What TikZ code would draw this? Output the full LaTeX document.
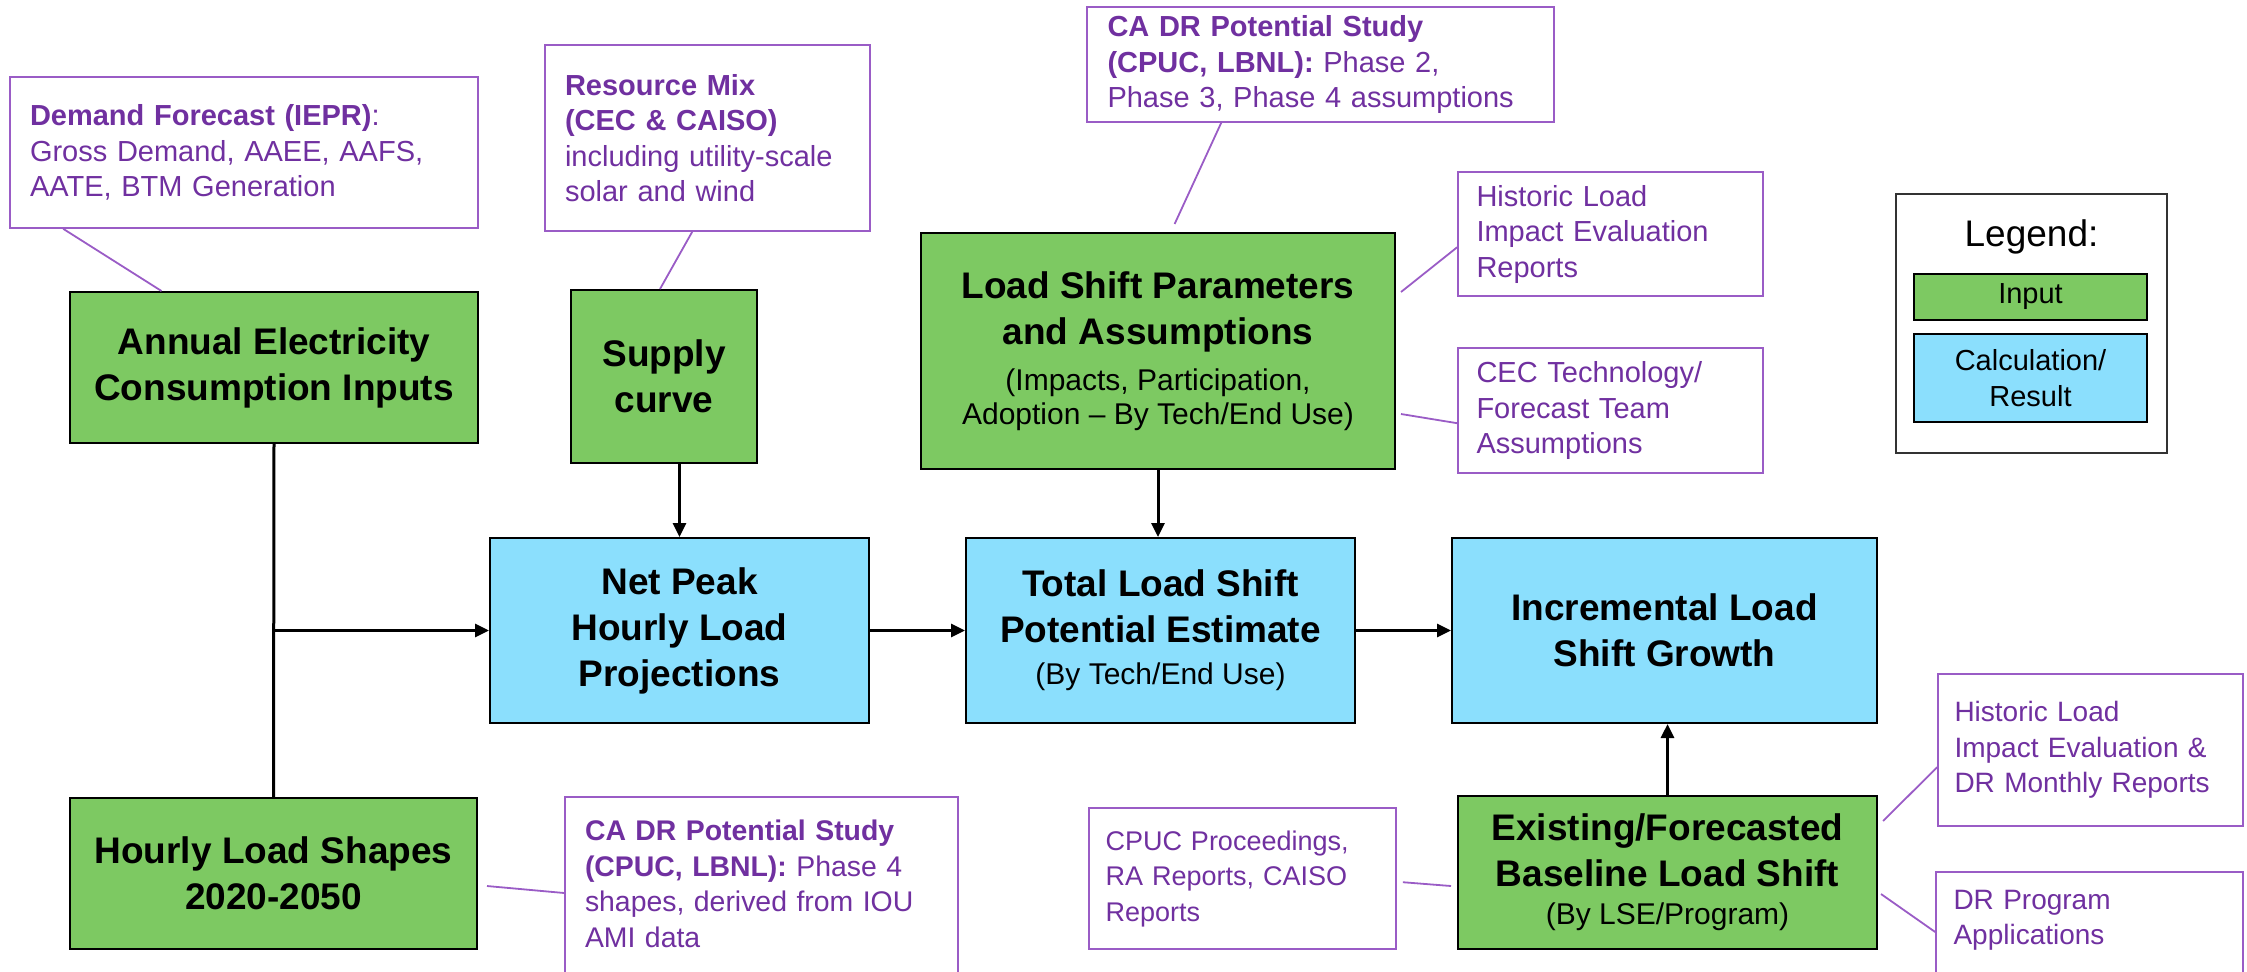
\documentclass[tikz,border=0pt]{standalone}
\usepackage{fontspec}
\setmainfont{Liberation Sans}
\usetikzlibrary{arrows.meta}
\definecolor{ingreen}{HTML}{7DC962}
\definecolor{calcblue}{HTML}{8BDFFD}
\definecolor{srctext}{HTML}{7030A0}
\definecolor{srcline}{HTML}{9A5CC6}
\newcommand\ttlfont{\fontsize{18.5}{23}\selectfont\bfseries}
\newcommand\subfont{\fontsize{15}{19}\selectfont\mdseries}
\newcommand\srcfont[1]{\fontsize{#1}{17.75}\selectfont}
\newcommand\keyfont{\fontsize{14.5}{18}\selectfont}
\begin{document}
\begin{tikzpicture}[x=1pt,y=-1pt,
  inbox/.style={draw=black, line width=1pt, fill=ingreen, align=center, font=\ttlfont, inner sep=2pt},
  calcbox/.style={inbox, fill=calcblue},
  srcbox/.style={draw=srcline, line width=0.8pt, fill=white, text=srctext, align=left, font=\srcfont{14.5}, inner xsep=0pt},
  lead/.style={srcline, line width=0.9pt},
  trunk/.style={line width=1.5pt},
  flow/.style={trunk, -{Triangle[length=7pt,width=6.5pt]}}]
\useasboundingbox (0,0) rectangle (1123.5,485.5);
\node[inbox, minimum width=204pt, minimum height=75.5pt] (annual) at (137,183.75) {Annual Electricity\\Consumption Inputs};
\node[inbox, minimum width=93pt, minimum height=86.5pt] (supply) at (332,188.25) {Supply\\curve};
\node[inbox, minimum width=237pt, minimum height=118pt] (lsp) at (579,175.5) {Load Shift Parameters\\and Assumptions\\{\subfont (Impacts, Participation,}\\[-6pt]{\subfont Adoption -- By Tech/End Use)}};
\node[inbox, minimum width=203.5pt, minimum height=75.5pt] (hourly) at (136.75,436.75) {Hourly Load Shapes\\2020-2050};
\node[inbox, minimum width=209.5pt, minimum height=76.5pt] (existing) at (833.75,436.25) {Existing/Forecasted\\Baseline Load Shift\\[-4pt]{\subfont (By LSE/Program)}};
\node[calcbox, minimum width=189.5pt, minimum height=92.5pt] (netpeak) at (339.75,315.25) {Net Peak\\Hourly Load\\Projections};
\node[calcbox, minimum width=194.5pt, minimum height=92.5pt] (total) at (580.25,315.25) {Total Load Shift\\Potential Estimate\\[-2pt]{\subfont (By Tech/End Use)}};
\node[calcbox, minimum width=212.5pt, minimum height=92.5pt] (incr) at (832.25,315.25) {Incremental Load\\Shift Growth};
\node[srcbox, minimum width=234pt, minimum height=75.5pt, text width=214pt] (demand) at (122,76.25) {\textbf{Demand Forecast (IEPR)}:\\Gross Demand, AAEE, AAFS,\\AATE, BTM Generation};
\node[srcbox, minimum width=162.5pt, minimum height=93pt, text width=142.5pt] (mix) at (353.75,69) {\textbf{Resource Mix}\\\textbf{(CEC \& CAISO)}\\including utility-scale\\solar and wind};
\node[srcbox, minimum width=233.5pt, minimum height=57.5pt, text width=213pt] (cadrtop) at (660.25,32.25) {\textbf{CA DR Potential Study}\\\textbf{(CPUC, LBNL):} Phase 2,\\Phase 3, Phase 4 assumptions};
\node[srcbox, minimum width=152.5pt, minimum height=62pt, text width=134pt] (hist1) at (805.25,117) {Historic Load\\Impact Evaluation\\Reports};
\node[srcbox, minimum width=152.5pt, minimum height=62.5pt, text width=134pt] (cec) at (805.25,205.25) {CEC Technology/\\Forecast Team\\Assumptions};
\node[srcbox, font=\srcfont{14.2}, minimum width=196.5pt, text width=176.5pt, anchor=north, inner ysep=11.6pt, text depth=67pt] (cadrbot) at (380.75,398) {\textbf{CA DR Potential Study}\\\textbf{(CPUC, LBNL):} Phase 4\\shapes, derived from IOU\\AMI data};
\node[srcbox, font=\srcfont{13.5}, minimum width=153.5pt, minimum height=70.5pt, text width=137pt] (cpuc) at (621.25,439.25) {CPUC Proceedings,\\RA Reports, CAISO\\Reports};
\node[srcbox, font=\srcfont{14}, minimum width=152.5pt, minimum height=76pt, text width=136pt] (hist2) at (1045.25,375) {Historic Load\\Impact Evaluation \&\\DR Monthly Reports};
\node[srcbox, font=\srcfont{14}, minimum width=153.5pt, text width=136pt, anchor=north, inner ysep=9.1pt, text depth=34pt] (drprog) at (1044.75,435.5) {DR Program\\Applications};
\node[draw=black!80, line width=0.8pt, minimum width=135.5pt, minimum height=129.5pt] (legend) at (1015.75,161.75) {};
\node[font=\fontsize{18.5}{22}\selectfont] (legendttl) at (1015.75,118.5) {Legend:};
\node[inbox, line width=0.8pt, font=\keyfont, minimum width=116.5pt, minimum height=23pt] (keyin) at (1015.25,148.5) {Input};
\node[calcbox, line width=0.8pt, font=\keyfont, minimum width=116.5pt, minimum height=44pt] (keycalc) at (1015.25,189) {Calculation/\\Result};
\draw[lead] ([xshift=27pt]demand.south west) -- ([xshift=46.25pt]annual.north west);
\draw[lead] ([xshift=74pt]mix.south west) -- ([xshift=45pt]supply.north west);
\draw[lead] ([xshift=67.5pt]cadrtop.south west) -- ([xshift=127.3pt,yshift=4pt]lsp.north west);
\draw[lead] ([yshift=-38pt]hist1.north west) -- ([xshift=2.5pt,yshift=-30pt]lsp.north east);
\draw[lead] ([yshift=-38pt]cec.north west) -- ([xshift=2.5pt,yshift=-91pt]lsp.north east);
\draw[lead] ([xshift=4.5pt,yshift=-44.5pt]hourly.north east) -- ([yshift=-48.5pt]cadrbot.north west);
\draw[lead] ([xshift=3pt,yshift=-37.5pt]cpuc.north east) -- ([xshift=-3pt,yshift=-45.5pt]existing.north west);
\draw[lead] ([xshift=2.5pt,yshift=-13pt]existing.north east) -- ([yshift=-47pt]hist2.north west);
\draw[lead] ([xshift=1.5pt,yshift=-49.5pt]existing.north east) -- ([yshift=-30.5pt]drprog.north west);
\coordinate (split) at (annual.south |- netpeak.west);
\draw[trunk] (annual.south) -- (hourly.north);
\draw[flow] (split) -- (netpeak.west);
\draw[flow] (supply.south -| netpeak.north) -- (netpeak.north);
\draw[flow] (lsp.south) -- (lsp.south |- total.north);
\draw[flow] (netpeak.east) -- (total.west);
\draw[flow] (total.east) -- (incr.west);
\draw[flow] (existing.north) -- (existing.north |- incr.south);
\end{tikzpicture}
\end{document}
